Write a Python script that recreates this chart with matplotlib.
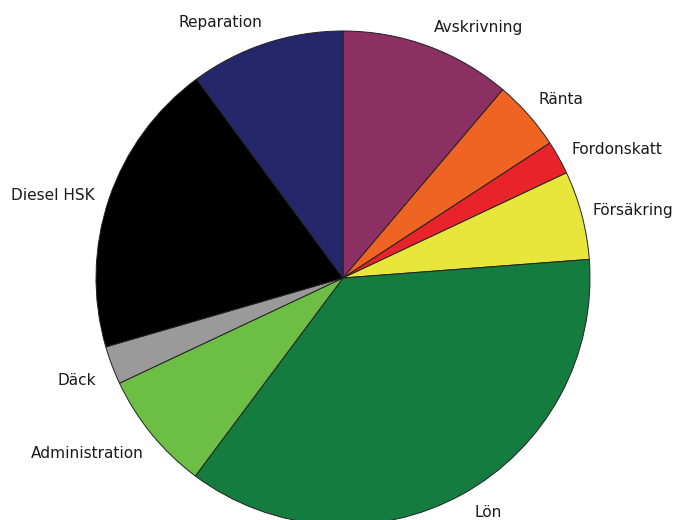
import matplotlib
matplotlib.use('Agg')
import matplotlib.pyplot as plt

labels = ['Avskrivning', 'Ränta', 'Fordonskatt', 'Försäkring', 'Lön',
          'Administration', 'Däck', 'Diesel HSK', 'Reparation']
shares = [11.2, 4.6, 2.2, 5.8, 36.4, 7.8, 2.5, 19.4, 10.1]
colors = ['#8c2f62', '#ef6423', '#e8232a', '#e8e63a', '#137c3e',
          '#6cbe45', '#9a9a9a', '#000000', '#25276a']
# where each label sits, in pie units (radius 1)
label_pos = [(0.547, 1.016), (0.883, 0.721), (1.109, 0.522), (1.174, 0.275),
             (0.587, -0.951), (-1.036, -0.709), (-1.077, -0.417),
             (-1.174, 0.332), (-0.498, 1.036)]

W, H = 678, 520
cx, cy, r = 343, 278, 247
fig = plt.figure(figsize=(W / 100, H / 100), dpi=100)
ax = fig.add_axes([(cx - r) / W, (H - cy - r) / H, 2 * r / W, 2 * r / H])

ax.pie(shares, colors=colors, startangle=90, counterclock=False,
       wedgeprops=dict(edgecolor='#222222', linewidth=0.7))
ax.set_xlim(-1, 1)
ax.set_ylim(-1, 1)
ax.set_aspect('equal')
ax.axis('off')

for lab, (x, y) in zip(labels, label_pos):
    ax.text(x, y, lab, ha='center', va='center', fontsize=11.1,
            family='DejaVu Sans', color='#1a1a1a', clip_on=False)

fig.savefig('out.png', dpi=100)
